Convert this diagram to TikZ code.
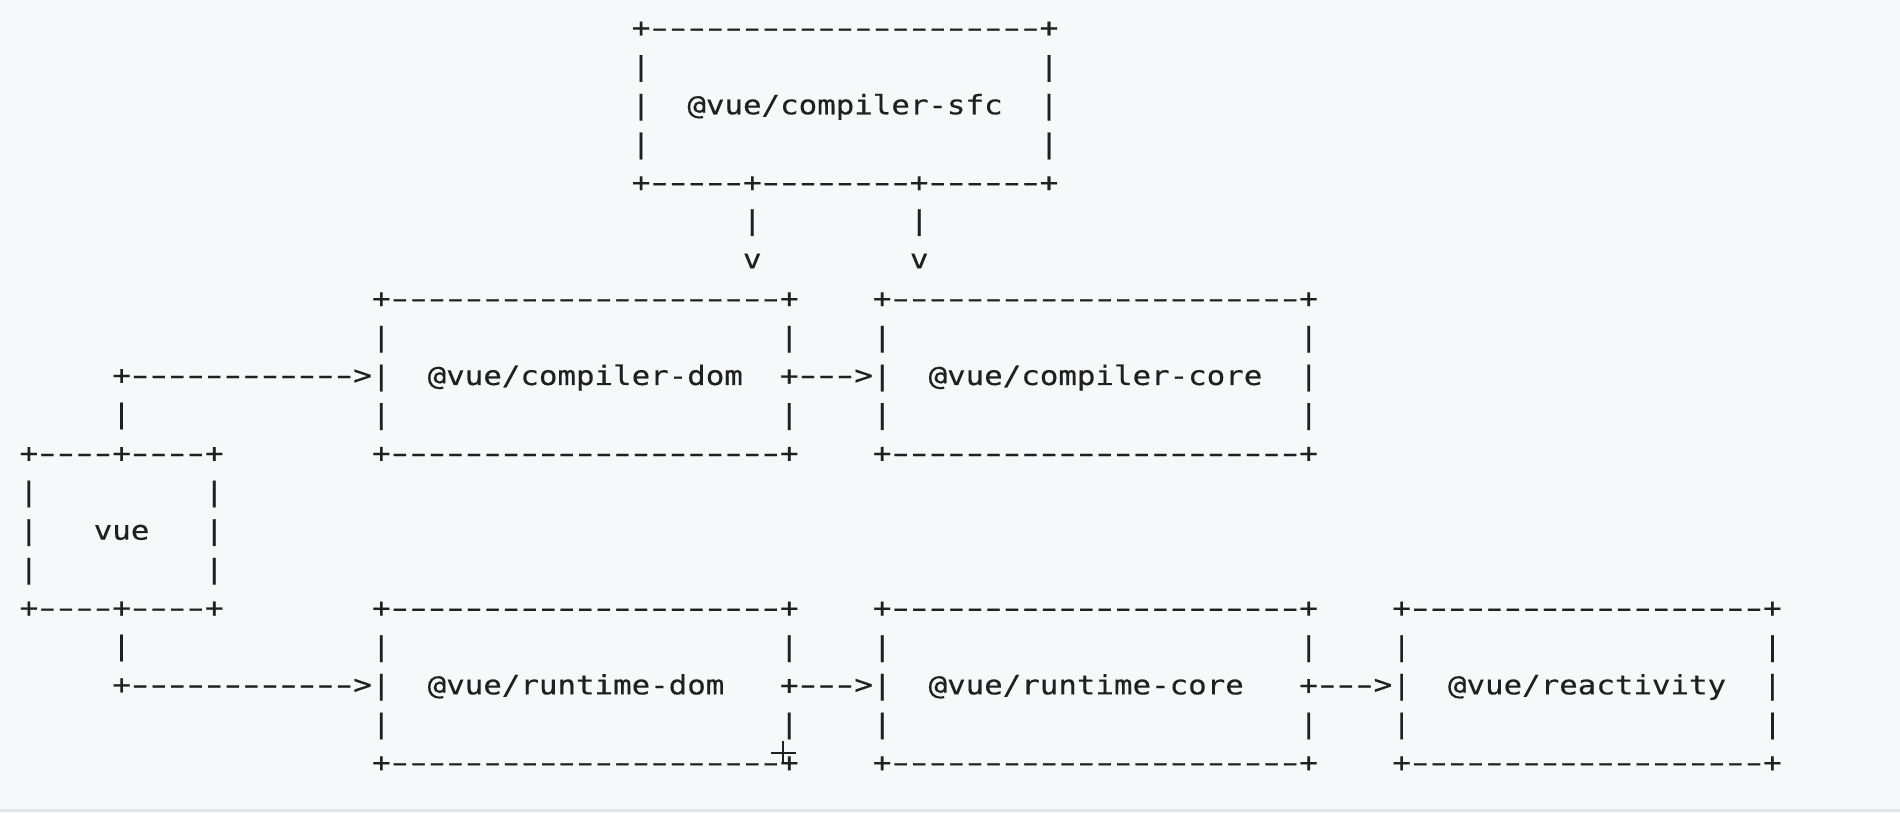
\documentclass[tikz,border=0pt]{standalone}
\usepackage{fontspec}
\newfontfamily\asciifont[FakeStretch=1.153, FakeBold=0.4]{DejaVu Sans Mono}
\newcommand{\asciitext}{\asciifont\fontsize{7.6pt}{11pt}\selectfont}
\newlength{\cw}
\newcommand{\gap}[1]{\settowidth{\cw}{x}\hspace*{#1\cw}}
\newcommand{\dashes}[1]{\settowidth{\cw}{x}\foreach\i in {1,...,#1}{\makebox[\cw]{\scalebox{1.55}[1]{-}}}}
\definecolor{paper}{RGB}{247,248,250}
\definecolor{ink}{RGB}{32,32,32}
\tikzset{
  ascii/.style={font=\asciitext, text=ink, inner sep=0pt, outer sep=0pt},
  asciibox/.style={ascii, align=left},
  asciiline/.style={ascii, text height=5.8pt, text depth=1.8pt}
}
\begin{document}
\begin{tikzpicture}[x=0.1855cm, y=-0.3867cm]
  \useasboundingbox (-1.5526,-0.7577) rectangle (100.87,20.24);
  \fill[paper] (-3,-2) rectangle (102,22);
  \draw[black!10, line width=0.6pt] (-3,20.2) -- (102,20.2);

  \node[asciibox] (sfc) at (44,2) {+\dashes{21}+\\%
|\gap{21}|\\%
|\gap{2}@vue/compiler-sfc\gap{2}|\\%
|\gap{21}|\\%
+\dashes{5}+\dashes{8}+\dashes{6}+};
  \node[asciiline] (sfc-dom-stem) at (39,5) {|};
  \node[asciiline] (sfc-dom-tip) at (39,6) {v};
  \node[asciiline] (sfc-core-stem) at (48,5) {|};
  \node[asciiline] (sfc-core-tip) at (48,6) {v};

  \node[asciibox] (dom) at (30,9) {+\dashes{21}+\\%
|\gap{21}|\\%
|\gap{2}@vue/compiler-dom\gap{2}+\\%
|\gap{21}|\\%
+\dashes{21}+};
  \node[asciibox] (core) at (57.5,9) {+\dashes{22}+\\%
|\gap{22}|\\%
|\gap{2}@vue/compiler-core\gap{2}|\\%
|\gap{22}|\\%
+\dashes{22}+};
  \node[asciiline] (dom-core) at (43.5,9) {\dashes{3}>};

  \node[asciibox] (vue) at (5,13) {+\dashes{4}+\dashes{4}+\\%
|\gap{9}|\\%
|\gap{3}vue\gap{3}|\\%
|\gap{9}|\\%
+\dashes{4}+\dashes{4}+};
  \node[asciiline] (vue-dom-stem) at (5,10) {|};
  \node[asciiline] (vue-dom) at (11.5,9) {+\dashes{12}>};
  \node[asciiline] (vue-rdom-stem) at (5,16) {|};
  \node[asciiline] (vue-rdom) at (11.5,17) {+\dashes{12}>};

  \node[asciibox] (rdom) at (30,17) {+\dashes{21}+\\%
|\gap{21}|\\%
|\gap{2}@vue/runtime-dom\gap{3}+\\%
|\gap{21}|\\%
+\dashes{21}+};
  \node[asciibox] (rcore) at (57.5,17) {+\dashes{22}+\\%
|\gap{22}|\\%
|\gap{2}@vue/runtime-core\gap{3}+\\%
|\gap{22}|\\%
+\dashes{22}+};
  \node[asciibox] (react) at (84,17) {+\dashes{19}+\\%
|\gap{19}|\\%
|\gap{2}@vue/reactivity\gap{2}|\\%
|\gap{19}|\\%
+\dashes{19}+};
  \node[asciiline] (rdom-rcore) at (43.5,17) {\dashes{3}>};
  \node[asciiline] (rcore-react) at (71.5,17) {\dashes{3}>};

  \draw[ink, line width=0.5pt] (40,18.71) -- (41.33,18.71) (40.66,18.41) -- (40.66,19.01);
\end{tikzpicture}
\end{document}
